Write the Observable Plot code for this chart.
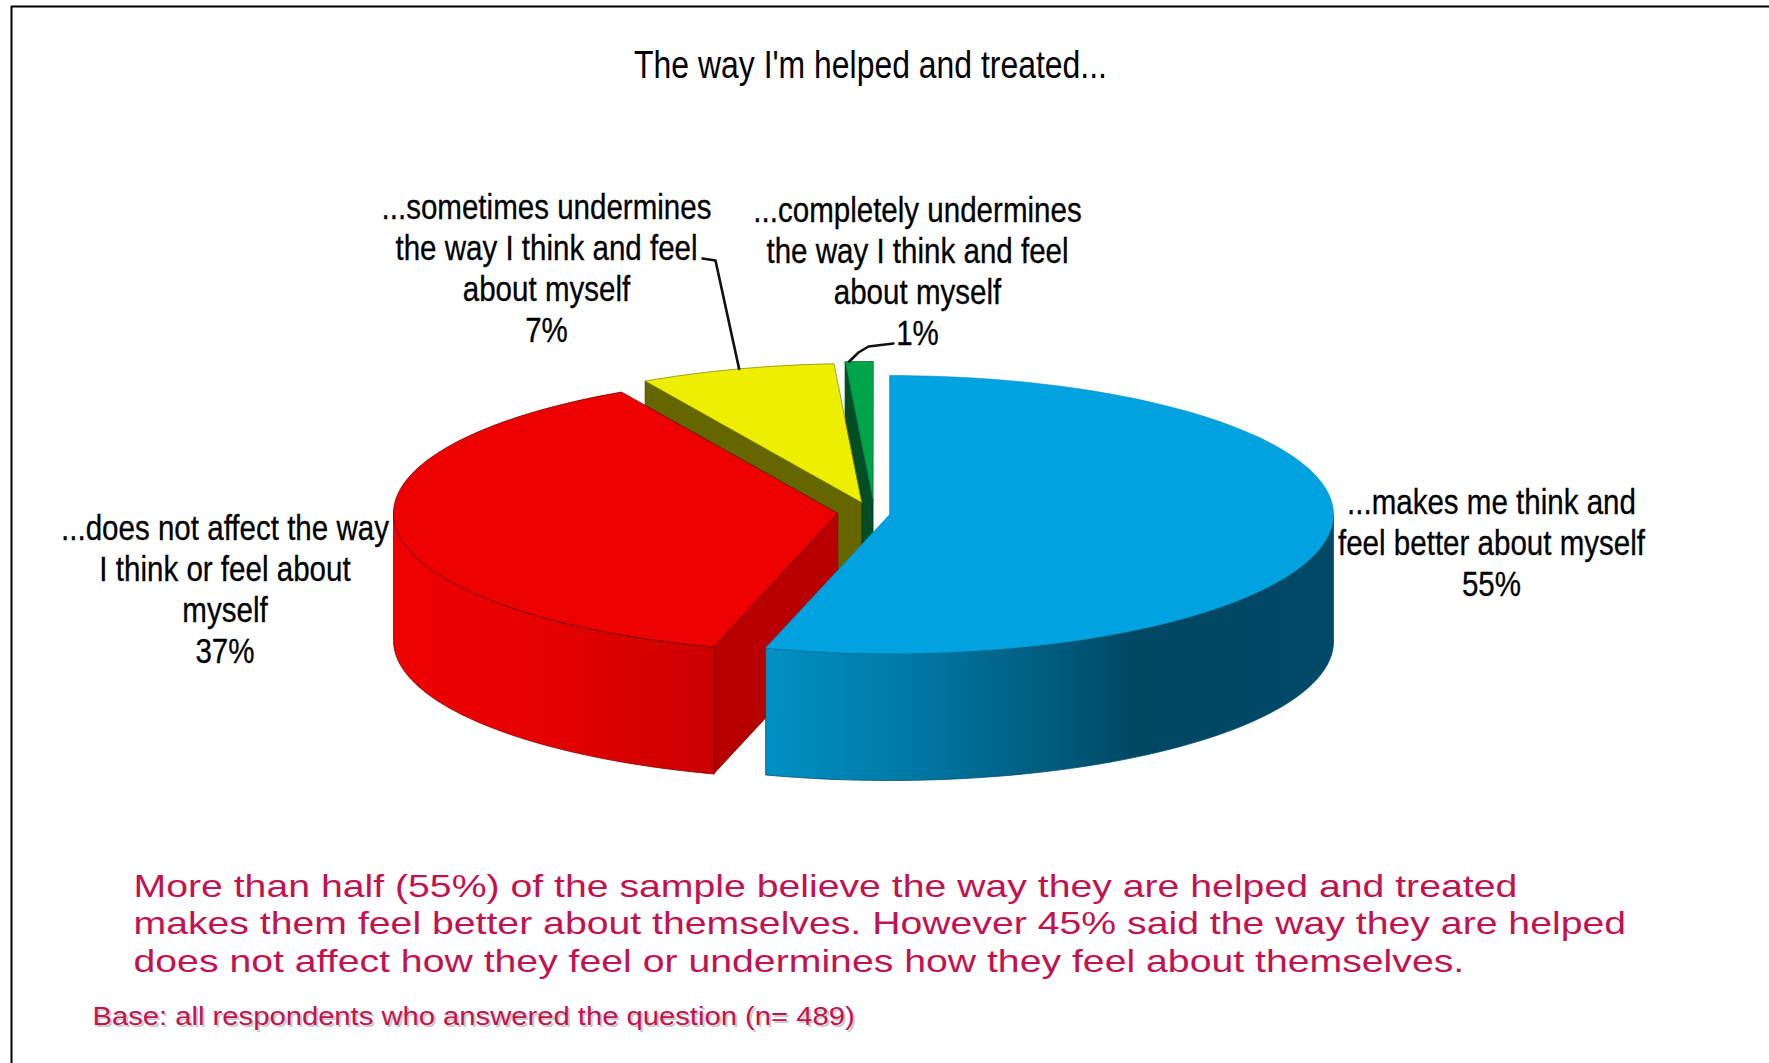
<!DOCTYPE html>
<html>
<head>
<meta charset="utf-8">
<style>html,body{margin:0;padding:0;background:#fff}svg{display:block}</style>
<script src="https://cdn.jsdelivr.net/npm/d3@7"></script>
<script src="https://cdn.jsdelivr.net/npm/@observablehq/plot@0.6"></script>
</head>
<body>
<script>
// Data
const categories = ["makes", "doesNotAffect", "sometimes", "completely"];
const shares = [54.5, 37.4, 7.1, 1.0];
const labelLines = [
  ["...makes me think and", "feel better about myself"],
  ["...does not affect the way", "I think or feel about", "myself"],
  ["...sometimes undermines", "the way I think and feel", "about myself"],
  ["...completely undermines", "the way I think and feel", "about myself"]
];
const titleText = "The way I'm helped and treated...";
const captionLines = [
  "More than half (55%) of the sample believe the way they are helped and treated",
  "makes them feel better about themselves. However 45% said the way they are helped",
  "does not affect how they feel or undermines how they feel about themselves."
];
const baseText = "Base: all respondents who answered the question (n= 489)";

// Layout of the 3D pie
const W = 1769, H = 1063, RX = 444, RY = 139, DEPTH = 127;
const centers = [[889, 514], [837, 513], [861, 502], [872.5, 500]];
const topColors = ["#00A2E0", "#EE0000", "#EEEE00", "#00A44A"];
const cutColors = [null, "#B80000", "#666600", "#004D26"];
const edgeColors = ["#0089BC", "#700000", "#8A8A00", "#006B30"];
// centre x and first-line y of each label block, line step 41
const labelPos = [[1491, 502], [224.5, 528], [546, 207], [917, 210]];

// Slices start at 12 o'clock and run clockwise
const cum = d3.cumsum(shares);
const total = cum[cum.length - 1];
const toAngle = v => v / total * 360;
const slices = categories.map((name, i) => ({
  name, i,
  a0: toAngle(i ? cum[i - 1] : 0),
  a1: toAngle(cum[i]),
  cx: centers[i][0],
  cy: centers[i][1]
}));
const pt = (s, a, dz = 0) => {
  const r = a * Math.PI / 180;
  return {x: s.cx + RX * Math.sin(r), y: s.cy - RY * Math.cos(r) + dz};
};
const arc = (s, a0, a1, dz = 0) => {
  const n = Math.max(2, Math.ceil(Math.abs(a1 - a0) / 1.5));
  return d3.range(n + 1).map(k => pt(s, a0 + (a1 - a0) * k / n, dz));
};
const topFace = s => [{x: s.cx, y: s.cy}, ...arc(s, s.a0, s.a1)];
const cutFace = s => {
  const p = pt(s, s.a0);
  return [{x: s.cx, y: s.cy}, p, {x: p.x, y: p.y + DEPTH}, {x: s.cx, y: s.cy + DEPTH}];
};
const rimFace = (s, a0, a1) => [...arc(s, a0, a1), ...arc(s, a1, a0, DEPTH)];
const face = (pts, fill, stroke, strokeWidth = 0.8) =>
  Plot.line(pts, {x: "x", y: "y", curve: "linear-closed", fill, stroke, strokeWidth, strokeLinejoin: "round"});

const [blue, red, yellow, green] = slices;

const sans = "'Liberation Sans',Arial,sans-serif";
const ink = "#000";
const crimson = "#C2134F";

// Leader lines run from the label to the rim of their slice
const yellowRim = pt(yellow, 344);
const greenRim = pt(green, 356.9);
const leaderYellow = [{x: 702, y: 258}, {x: 715, y: 260}, yellowRim];
const leaderGreen = [greenRim, {x: 858, y: 352}, {x: 868, y: 346}, {x: 893, y: 343}];

// One row per printed line
const labelRows = labelLines.flatMap((lines, i) =>
  [...lines, `${Math.round(shares[i])}%`].map((line, k) => ({
    line, x: labelPos[i][0], y: labelPos[i][1] + k * 41
  })));
const captionRows = captionLines.map((line, k) => ({line, x: 133, y: 886 + k * 37.5}));

const chart = Plot.plot({
  width: W, height: H, margin: 0,
  x: {domain: [0, W], range: [0, W], axis: null},
  y: {domain: [0, H], range: [0, H], axis: null},
  style: {background: "#fff"},
  marks: [
    // frame
    Plot.line([{x: 11, y: H}, {x: 11, y: 6}, {x: W, y: 6}], {x: "x", y: "y", stroke: "#000", strokeWidth: 2}),
    // back to front
    face(cutFace(green), cutColors[3], "#003318"),
    face(topFace(green), topColors[3], edgeColors[3]),
    face(cutFace(yellow), cutColors[2], "#3d3d00"),
    face(topFace(yellow), topColors[2], edgeColors[2]),
    face(cutFace(red), cutColors[1], "#700000"),
    face(rimFace(red, red.a0, 270), "url(#redRim)", "#8a0000"),
    face(topFace(red), topColors[1], edgeColors[1]),
    face(rimFace(blue, 90, blue.a1), "url(#blueRim)", "#00506f"),
    face(topFace(blue), topColors[0], edgeColors[0], 0.5),
    // leaders
    Plot.line(leaderYellow, {x: "x", y: "y", stroke: "#111", strokeWidth: 2.6}),
    Plot.line(leaderGreen, {x: "x", y: "y", stroke: "#111", strokeWidth: 2.6}),
    // text
    Plot.text([{line: titleText, x: 870, y: 65}], {x: "x", y: "y", text: "line", className: "t-title", fontFamily: sans, fontSize: 38, fill: ink, textAnchor: "middle", lineAnchor: "middle"}),
    Plot.text(labelRows, {x: "x", y: "y", text: "line", className: "t-label", fontFamily: sans, fontSize: 35, fill: ink, stroke: ink, strokeWidth: 0.3, textAnchor: "middle", lineAnchor: "middle"}),
    Plot.text(captionRows, {x: "x", y: "y", text: "line", className: "t-caption", fontFamily: sans, fontSize: 32, fill: crimson, textAnchor: "start", lineAnchor: "middle"}),
    Plot.text([{line: baseText, x: 94, y: 1018}], {x: "x", y: "y", text: "line", className: "t-shadow", fontFamily: sans, fontSize: 25, fill: "#c9c9c9", textAnchor: "start", lineAnchor: "middle"}),
    Plot.text([{line: baseText, x: 92, y: 1016}], {x: "x", y: "y", text: "line", className: "t-base", fontFamily: sans, fontSize: 25, fill: crimson, textAnchor: "start", lineAnchor: "middle"})
  ]
});

// gradients used by the rim faces
const defs = d3.select(chart).insert("defs", ":first-child");
const grad = (id, stops) => {
  const g = defs.append("linearGradient").attr("id", id).attr("x1", 0).attr("x2", 1).attr("y1", 0).attr("y2", 0);
  stops.forEach(([o, c]) => g.append("stop").attr("offset", o).attr("stop-color", c));
};
grad("blueRim", [[0, "#0091C4"], [0.25, "#0079A6"], [0.45, "#006285"], [0.66, "#004762"], [1, "#004A68"]]);
grad("redRim", [[0, "#EE0000"], [0.45, "#E60000"], [1, "#CC0000"]]);

document.body.appendChild(chart);

// The source type is condensed or stretched horizontally
const stretch = {"t-title": 0.84, "t-label": 0.844, "t-caption": 1.225, "t-shadow": 1.168, "t-base": 1.168};
for (const [cls, f] of Object.entries(stretch)) {
  d3.select(chart).selectAll(`.${cls} text`).each(function() {
    const len = this.getComputedTextLength();
    this.setAttribute("lengthAdjust", "spacingAndGlyphs");
    this.setAttribute("textLength", len * f);
  });
}
</script>
</body>
</html>
